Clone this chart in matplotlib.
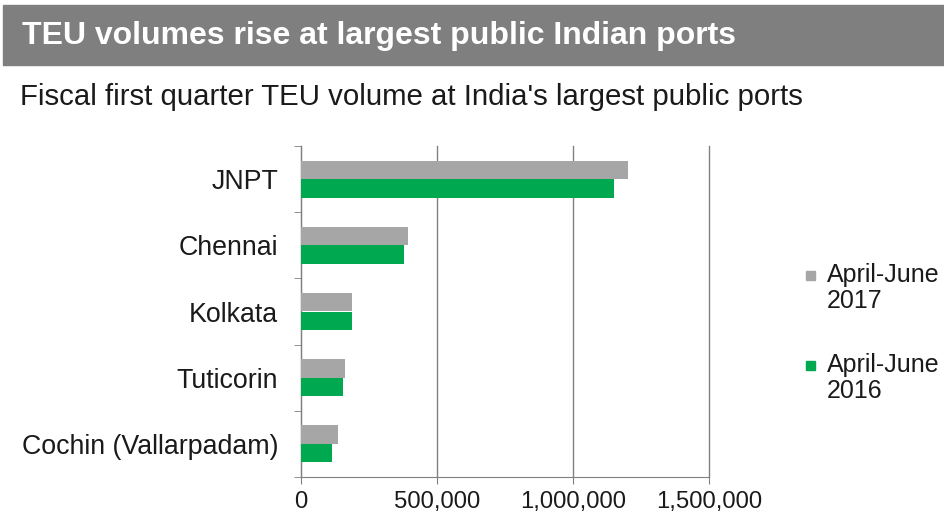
import numpy as np
import matplotlib.pyplot as plt
from matplotlib.patches import Rectangle

plt.rcParams['font.family'] = ['Liberation Sans', 'DejaVu Sans']

# data
ports = ['JNPT', 'Chennai', 'Kolkata', 'Tuticorin', 'Cochin (Vallarpadam)']
teu_2017 = [1202000, 392000, 186000, 163000, 135000]
teu_2016 = [1151000, 378000, 187000, 156000, 113000]
series_names = ['April-June\n2017', 'April-June\n2016']
xticks = [0, 500000, 1000000, 1500000]

grey = '#a6a6a6'
green = '#00a84f'
txt = '#1a1a1a'

fig = plt.figure(figsize=(9.44, 5.23), dpi=100)
W, H = 944, 523

# title band
fig.patches.append(Rectangle((3 / W, 1 - 65 / H), 941 / W, 60 / H,
                             transform=fig.transFigure, color='#7f7f7f', zorder=0))
fig.text(22 / W, 1 - 36 / H, 'TEU volumes rise at largest public Indian ports',
         color='white', fontsize=23, fontweight='bold', va='center', ha='left')
fig.text(20 / W, 1 - 97 / H, "Fiscal first quarter TEU volume at India's largest public ports",
         color=txt, fontsize=21.2, va='center', ha='left')

ax = fig.add_axes([301 / W, 1 - 477 / H, (709 - 301) / W, (477 - 146) / H])

y = np.arange(len(ports))
h = 0.28
ax.barh(y - h / 2, teu_2017, height=h, color=grey, zorder=3)
ax.barh(y + h / 2, teu_2016, height=h, color=green, zorder=3)

ax.set_ylim(len(ports) - 0.5, -0.5)
ax.set_xlim(0, 1500000)
ax.set_yticks(y)
ax.set_yticklabels(ports, fontsize=19.3, color=txt)
ax.set_yticks(np.arange(len(ports) + 1) - 0.5, minor=True)
ax.tick_params(axis='y', which='major', length=0, pad=16.5)
ax.tick_params(axis='y', which='minor', length=5, color='#808080', direction='out')

ax.set_xticks(xticks)
ax.set_xticklabels([f'{v:,}' for v in xticks], fontsize=17.2, color=txt)
ax.tick_params(axis='x', length=5, color='#808080', direction='out', pad=5)

ax.grid(axis='x', color='#808080', linewidth=1, zorder=0)
for gl in ax.get_xgridlines():
    gl.set_clip_on(False)
for s in ['top', 'right']:
    ax.spines[s].set_visible(False)
ax.spines['left'].set_color('#808080')
ax.spines['bottom'].set_color('#808080')

# legend: square marker level with the first text line
legend_rows = [275, 365]
for name, col, yy in zip(series_names, [grey, green], legend_rows):
    fig.patches.append(Rectangle((806 / W, 1 - (yy + 4.5) / H), 9 / W, 9 / H,
                                 transform=fig.transFigure, color=col))
    fig.text(827 / W, 1 - (yy - 12) / H, name, color=txt, fontsize=18,
             va='top', ha='left', linespacing=1.1)

fig.savefig('out.png', dpi=100)
